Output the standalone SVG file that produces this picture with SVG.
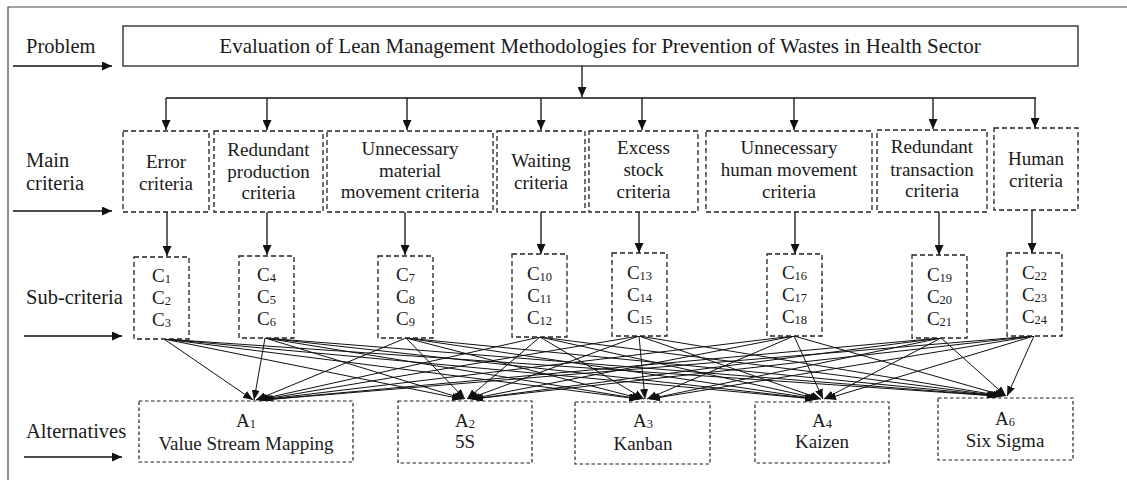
<svg xmlns="http://www.w3.org/2000/svg" width="1127" height="480" viewBox="0 0 1127 480" font-family="'Liberation Serif','Times New Roman',serif">
<defs>
<style>
text{font-family:"Liberation Serif","Times New Roman",serif;fill:#1a1a1a}
.lbl{font-size:20.5px}
.ttl{font-size:21px}
.t{font-size:19px;text-anchor:middle}
.s{font-size:12.5px}
.solid{fill:#fff;stroke:#222;stroke-width:1.3}
.dash{fill:#fff;stroke:#222;stroke-width:1.3;stroke-dasharray:5 3}
.dash2{fill:#fff;stroke:#222;stroke-width:1.2;stroke-dasharray:3.5 2.5}
.ar{fill:none;stroke:#111;stroke-width:1.3}
.cn line{stroke:#111;stroke-width:1}
</style>
<marker id="big" markerUnits="userSpaceOnUse" markerWidth="10" markerHeight="9" refX="10" refY="4.5" orient="auto"><path d="M0,0 L10,4.5 L0,9 z" fill="#111"/></marker>
<marker id="sm" markerUnits="userSpaceOnUse" markerWidth="10" markerHeight="8" refX="10" refY="4" orient="auto"><path d="M0,0 L10,4 L0,8 z" fill="#111"/></marker>
</defs>
<rect width="1127" height="480" fill="#fff"/>
<path d="M8,480 L8,7 L1127,7" fill="none" stroke="#444" stroke-width="1.2"/>

<g id="labels">
<text class="lbl" x="26" y="53">Problem</text>
<text class="lbl" x="26" y="167">Main</text>
<text class="lbl" x="26" y="190">criteria</text>
<text class="lbl" x="26" y="304">Sub-criteria</text>
<text class="lbl" x="26" y="438">Alternatives</text>
</g>

<g id="connectors">
<g class="ar">
<line x1="13" y1="66" x2="112" y2="66" marker-end="url(#big)"/>
<line x1="13" y1="211" x2="112" y2="211" marker-end="url(#big)"/>
<line x1="24" y1="336" x2="122" y2="336" marker-end="url(#big)"/>
<line x1="24" y1="457" x2="122" y2="457" marker-end="url(#big)"/>
<line x1="582" y1="66" x2="582" y2="97" marker-end="url(#big)"/>
<line x1="166" y1="98" x2="1036" y2="98"/>
<line x1="166" y1="98" x2="166" y2="130" marker-end="url(#big)"/>
<line x1="267" y1="98" x2="267" y2="130" marker-end="url(#big)"/>
<line x1="407" y1="98" x2="407" y2="130" marker-end="url(#big)"/>
<line x1="541" y1="98" x2="541" y2="130" marker-end="url(#big)"/>
<line x1="642" y1="98" x2="642" y2="130" marker-end="url(#big)"/>
<line x1="794" y1="98" x2="794" y2="130" marker-end="url(#big)"/>
<line x1="933" y1="98" x2="933" y2="129" marker-end="url(#big)"/>
<line x1="1035" y1="98" x2="1035" y2="128" marker-end="url(#big)"/>
<line x1="167" y1="212" x2="167" y2="256" marker-end="url(#big)"/>
<line x1="267" y1="212" x2="267" y2="255" marker-end="url(#big)"/>
<line x1="405" y1="212" x2="405" y2="255" marker-end="url(#big)"/>
<line x1="541" y1="212" x2="541" y2="254" marker-end="url(#big)"/>
<line x1="639" y1="212" x2="639" y2="253" marker-end="url(#big)"/>
<line x1="795" y1="212" x2="795" y2="254" marker-end="url(#big)"/>
<line x1="939" y1="212" x2="939" y2="255" marker-end="url(#big)"/>
<line x1="1032" y1="210" x2="1032" y2="253" marker-end="url(#big)"/>
</g>
<g class="cn">
<line x1="164" y1="339" x2="253" y2="400" marker-end="url(#sm)"/>
<line x1="164" y1="339" x2="462" y2="399" marker-end="url(#sm)"/>
<line x1="164" y1="339" x2="639" y2="399" marker-end="url(#sm)"/>
<line x1="164" y1="339" x2="815" y2="399" marker-end="url(#sm)"/>
<line x1="164" y1="339" x2="997" y2="396" marker-end="url(#sm)"/>
<line x1="265" y1="338" x2="254" y2="400" marker-end="url(#sm)"/>
<line x1="265" y1="338" x2="464" y2="399" marker-end="url(#sm)"/>
<line x1="265" y1="338" x2="640" y2="399" marker-end="url(#sm)"/>
<line x1="265" y1="338" x2="816" y2="399" marker-end="url(#sm)"/>
<line x1="265" y1="338" x2="998" y2="396" marker-end="url(#sm)"/>
<line x1="406" y1="338" x2="256" y2="400" marker-end="url(#sm)"/>
<line x1="406" y1="338" x2="465" y2="399" marker-end="url(#sm)"/>
<line x1="406" y1="338" x2="642" y2="399" marker-end="url(#sm)"/>
<line x1="406" y1="338" x2="818" y2="399" marker-end="url(#sm)"/>
<line x1="406" y1="338" x2="1000" y2="396" marker-end="url(#sm)"/>
<line x1="540" y1="337" x2="257" y2="400" marker-end="url(#sm)"/>
<line x1="540" y1="337" x2="467" y2="399" marker-end="url(#sm)"/>
<line x1="540" y1="337" x2="644" y2="399" marker-end="url(#sm)"/>
<line x1="540" y1="337" x2="820" y2="399" marker-end="url(#sm)"/>
<line x1="540" y1="337" x2="1001" y2="396" marker-end="url(#sm)"/>
<line x1="639" y1="336" x2="259" y2="400" marker-end="url(#sm)"/>
<line x1="639" y1="336" x2="468" y2="399" marker-end="url(#sm)"/>
<line x1="639" y1="336" x2="645" y2="399" marker-end="url(#sm)"/>
<line x1="639" y1="336" x2="821" y2="399" marker-end="url(#sm)"/>
<line x1="639" y1="336" x2="1003" y2="396" marker-end="url(#sm)"/>
<line x1="794" y1="336" x2="260" y2="400" marker-end="url(#sm)"/>
<line x1="794" y1="336" x2="470" y2="399" marker-end="url(#sm)"/>
<line x1="794" y1="336" x2="647" y2="399" marker-end="url(#sm)"/>
<line x1="794" y1="336" x2="823" y2="399" marker-end="url(#sm)"/>
<line x1="794" y1="336" x2="1005" y2="396" marker-end="url(#sm)"/>
<line x1="941" y1="338" x2="262" y2="400" marker-end="url(#sm)"/>
<line x1="941" y1="338" x2="472" y2="399" marker-end="url(#sm)"/>
<line x1="941" y1="338" x2="649" y2="399" marker-end="url(#sm)"/>
<line x1="941" y1="338" x2="824" y2="399" marker-end="url(#sm)"/>
<line x1="941" y1="338" x2="1006" y2="396" marker-end="url(#sm)"/>
<line x1="1034" y1="336" x2="263" y2="400" marker-end="url(#sm)"/>
<line x1="1034" y1="336" x2="473" y2="399" marker-end="url(#sm)"/>
<line x1="1034" y1="336" x2="650" y2="399" marker-end="url(#sm)"/>
<line x1="1034" y1="336" x2="826" y2="399" marker-end="url(#sm)"/>
<line x1="1034" y1="336" x2="1007" y2="396" marker-end="url(#sm)"/>
</g>
</g>

<g id="problem">
<rect class="solid" x="123" y="26" width="955" height="40"/>
<text class="ttl" x="600" y="53" text-anchor="middle">Evaluation of Lean Management Methodologies for Prevention of Wastes in Health Sector</text>
</g>

<g id="m-error"><rect class="dash" x="123" y="131" width="86" height="81"/>
<text class="t" x="166" y="168">Error</text><text class="t" x="166" y="190">criteria</text></g>
<g id="m-redprod"><rect class="dash" x="214" y="131" width="109" height="81"/>
<text class="t" x="268.5" y="156">Redundant</text><text class="t" x="268.5" y="177.5">production</text><text class="t" x="268.5" y="199">criteria</text></g>
<g id="m-material"><rect class="dash" x="327" y="131" width="166" height="81"/>
<text class="t" x="410" y="155">Unnecessary</text><text class="t" x="410" y="176.5">material</text><text class="t" x="410" y="198">movement criteria</text></g>
<g id="m-waiting"><rect class="dash" x="497" y="131" width="88" height="81"/>
<text class="t" x="541" y="167">Waiting</text><text class="t" x="541" y="188.5">criteria</text></g>
<g id="m-stock"><rect class="dash" x="589" y="131" width="109" height="81"/>
<text class="t" x="643.5" y="154">Excess</text><text class="t" x="643.5" y="176">stock</text><text class="t" x="643.5" y="198">criteria</text></g>
<g id="m-human-move"><rect class="dash" x="706" y="131" width="166" height="81"/>
<text class="t" x="789" y="154">Unnecessary</text><text class="t" x="789" y="176">human movement</text><text class="t" x="789" y="198">criteria</text></g>
<g id="m-transaction"><rect class="dash" x="877" y="130" width="110" height="82"/>
<text class="t" x="932" y="153">Redundant</text><text class="t" x="932" y="175.5">transaction</text><text class="t" x="932" y="197">criteria</text></g>
<g id="m-human"><rect class="dash" x="994" y="128" width="84" height="82"/>
<text class="t" x="1036" y="165">Human</text><text class="t" x="1036" y="187">criteria</text></g>

<g id="s1"><rect class="dash" x="134" y="257" width="55" height="82"/>
<text class="t" x="161.5" y="282">C<tspan class="s" dy="1">1</tspan></text><text class="t" x="161.5" y="304">C<tspan class="s" dy="1">2</tspan></text><text class="t" x="161.5" y="326">C<tspan class="s" dy="1">3</tspan></text></g>
<g id="s2"><rect class="dash" x="239" y="256" width="55" height="82"/>
<text class="t" x="266.5" y="281">C<tspan class="s" dy="1">4</tspan></text><text class="t" x="266.5" y="303">C<tspan class="s" dy="1">5</tspan></text><text class="t" x="266.5" y="325">C<tspan class="s" dy="1">6</tspan></text></g>
<g id="s3"><rect class="dash" x="378" y="256" width="55" height="82"/>
<text class="t" x="405.5" y="281">C<tspan class="s" dy="1">7</tspan></text><text class="t" x="405.5" y="303">C<tspan class="s" dy="1">8</tspan></text><text class="t" x="405.5" y="325">C<tspan class="s" dy="1">9</tspan></text></g>
<g id="s4"><rect class="dash" x="512" y="254" width="55" height="83"/>
<text class="t" x="539.5" y="280">C<tspan class="s" dy="1">10</tspan></text><text class="t" x="539.5" y="302">C<tspan class="s" dy="1">11</tspan></text><text class="t" x="539.5" y="324">C<tspan class="s" dy="1">12</tspan></text></g>
<g id="s5"><rect class="dash" x="612" y="253" width="55" height="83"/>
<text class="t" x="639.5" y="279">C<tspan class="s" dy="1">13</tspan></text><text class="t" x="639.5" y="301">C<tspan class="s" dy="1">14</tspan></text><text class="t" x="639.5" y="323">C<tspan class="s" dy="1">15</tspan></text></g>
<g id="s6"><rect class="dash" x="767" y="254" width="55" height="82"/>
<text class="t" x="794.5" y="279">C<tspan class="s" dy="1">16</tspan></text><text class="t" x="794.5" y="301">C<tspan class="s" dy="1">17</tspan></text><text class="t" x="794.5" y="323">C<tspan class="s" dy="1">18</tspan></text></g>
<g id="s7"><rect class="dash" x="912" y="255" width="55" height="83"/>
<text class="t" x="939.5" y="281">C<tspan class="s" dy="1">19</tspan></text><text class="t" x="939.5" y="303">C<tspan class="s" dy="1">20</tspan></text><text class="t" x="939.5" y="325">C<tspan class="s" dy="1">21</tspan></text></g>
<g id="s8"><rect class="dash" x="1007" y="253" width="55" height="83"/>
<text class="t" x="1034.5" y="279">C<tspan class="s" dy="1">22</tspan></text><text class="t" x="1034.5" y="301">C<tspan class="s" dy="1">23</tspan></text><text class="t" x="1034.5" y="323">C<tspan class="s" dy="1">24</tspan></text></g>

<g id="a1"><rect class="dash2" x="139" y="401" width="214" height="61"/>
<text class="t" x="246" y="427">A<tspan class="s" dy="1">1</tspan></text><text class="t" x="246" y="450">Value Stream Mapping</text></g>
<g id="a2"><rect class="dash2" x="398" y="401" width="134" height="62"/>
<text class="t" x="465" y="427">A<tspan class="s" dy="1">2</tspan></text><text class="t" x="465" y="448">5S</text></g>
<g id="a3"><rect class="dash2" x="575" y="402" width="135" height="62"/>
<text class="t" x="643" y="427">A<tspan class="s" dy="1">3</tspan></text><text class="t" x="643" y="450">Kanban</text></g>
<g id="a4"><rect class="dash2" x="755" y="402" width="134" height="61"/>
<text class="t" x="822" y="427">A<tspan class="s" dy="1">4</tspan></text><text class="t" x="822" y="448">Kaizen</text></g>
<g id="a6"><rect class="dash2" x="938" y="398" width="135" height="62"/>
<text class="t" x="1005" y="425">A<tspan class="s" dy="1">6</tspan></text><text class="t" x="1005" y="447">Six Sigma</text></g>
</svg>
